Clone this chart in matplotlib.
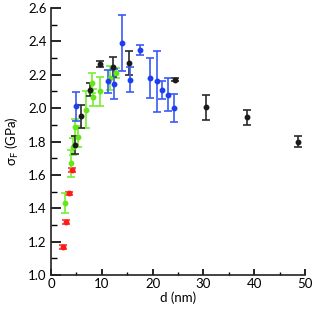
import matplotlib
matplotlib.use("Agg")
import matplotlib.pyplot as plt
from matplotlib.ticker import MultipleLocator

plt.rcParams['font.family'] = ['Lato', 'DejaVu Sans']

# Red series
red_d = [2.4, 2.9, 3.5, 4.1]
red_s = [1.17, 1.32, 1.49, 1.63]
red_e = [0.012, 0.012, 0.008, 0.01]

# Green series
green_d = [2.7, 3.9, 4.3, 4.7, 5.3, 6.9, 8.1, 8.3, 9.6, 11.7, 12.8]
green_s = [1.43, 1.67, 1.77, 1.885, 1.83, 1.99, 2.15, 2.065, 2.10, 2.18, 2.21]
green_e = [0.06, 0.08, 0.05, 0.05, 0.06, 0.11, 0.06, 0.05, 0.085, 0.07, 0.03]

# Black series
black_d = [4.8, 6.0, 7.7, 9.6, 12.2, 15.3, 24.4, 30.6, 38.6, 48.6]
black_s = [1.78, 1.95, 2.11, 2.265, 2.245, 2.27, 2.17, 2.005, 1.945, 1.80]
black_e = [0.055, 0.07, 0.04, 0.02, 0.06, 0.07, 0.01, 0.075, 0.045, 0.035]

# Blue series
blue_d = [5.0, 11.3, 12.4, 14.0, 15.5, 17.5, 19.5, 20.8, 21.9, 23.1, 24.3]
blue_s = [2.01, 2.16, 2.145, 2.39, 2.17, 2.35, 2.18, 2.16, 2.11, 2.08, 2.00]
blue_e = [0.085, 0.07, 0.09, 0.17, 0.075, 0.03, 0.12, 0.185, 0.055, 0.10, 0.085]

x_ticks = [0, 10, 20, 30, 40, 50]
y_ticks = [1.0, 1.2, 1.4, 1.6, 1.8, 2.0, 2.2, 2.4, 2.6]

fig = plt.figure(figsize=(3.32, 3.13), dpi=100)
ax = fig.add_axes([0.1536, 0.1214, 0.7651, 0.853])

series = [
    (red_d, red_s, red_e, '#ff1a1a', '#ff3030'),
    (green_d, green_s, green_e, '#66e61a', '#77ee33'),
    (black_d, black_s, black_e, '#1a1a1a', '#2a2a2a'),
    (blue_d, blue_s, blue_e, '#1f3df0', '#3a5af5'),
]
for d, s, e, mc, ec in series:
    ax.errorbar(d, s, yerr=e, fmt='o', color=mc, ecolor=ec, markersize=3.2,
                elinewidth=1.2, capsize=3, capthick=1.2, zorder=3)

ax.set_xlim(0, 50)
ax.set_ylim(1.0, 2.6)
ax.set_xticks(x_ticks)
ax.set_yticks(y_ticks)
ax.set_yticklabels([f"{v:.1f}" for v in y_ticks])
ax.xaxis.set_minor_locator(MultipleLocator(5))
ax.yaxis.set_minor_locator(MultipleLocator(0.1))
ax.spines['top'].set_visible(False)
ax.spines['right'].set_visible(False)
for sp in ['left', 'bottom']:
    ax.spines[sp].set_linewidth(1.2)
    ax.spines[sp].set_color('#222222')
ax.tick_params(axis='x', which='major', direction='in', length=4.5, width=1.2, labelsize=9.5, pad=2)
ax.tick_params(axis='x', which='minor', direction='in', length=2.5, width=1.0)
ax.tick_params(axis='y', which='major', direction='in', length=7, width=1.2, labelsize=9.5, pad=3)
ax.tick_params(axis='y', which='minor', direction='in', length=4, width=1.0)
ax.set_xlabel('d (nm)', fontsize=9.5, labelpad=1)
ax.set_ylabel(r'σ$_\mathregular{F}$ (GPa)', fontsize=9.5, labelpad=5)

fig.savefig('out.png', dpi=100)
